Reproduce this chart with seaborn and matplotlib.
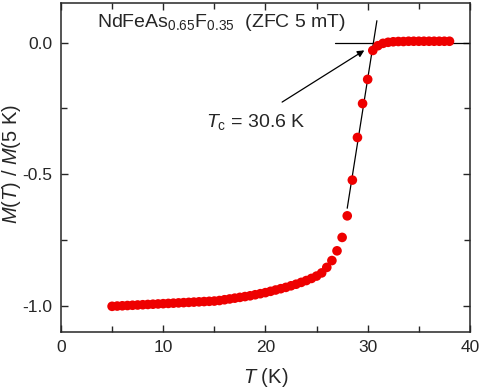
import numpy as np
import pandas as pd
import seaborn as sns
import matplotlib.pyplot as plt
from matplotlib.ticker import MultipleLocator

# ZFC magnetization of NdFeAs0.65F0.35, normalized to M(5 K)
temp_K = [5.0, 5.5, 6.0, 6.5, 7.0, 7.5, 8.0, 8.5, 9.0, 9.5,
          10.0, 10.5, 11.0, 11.5, 12.0, 12.5, 13.0, 13.5, 14.0, 14.5,
          15.0, 15.5, 16.0, 16.5, 17.0, 17.5, 18.0, 18.5, 19.0, 19.5,
          20.0, 20.5, 21.0, 21.5, 22.0, 22.5, 23.0, 23.5, 24.0, 24.5,
          25.0, 25.5, 26.0, 26.5, 27.0, 27.5, 28.0, 28.5, 29.0, 29.5,
          30.0, 30.5, 31.0, 31.5, 32.0, 32.5, 33.0, 33.5, 34.0, 34.5,
          35.0, 35.5, 36.0, 36.5, 37.0, 37.5, 38.0]
m_norm = [-1.003, -1.002, -1.001, -1.000, -0.999, -0.998, -0.997, -0.996, -0.995, -0.994,
          -0.993, -0.992, -0.991, -0.990, -0.989, -0.988, -0.987, -0.986, -0.985, -0.984,
          -0.983, -0.981, -0.978, -0.975, -0.972, -0.969, -0.966, -0.963, -0.959, -0.955,
          -0.951, -0.946, -0.941, -0.936, -0.931, -0.925, -0.919, -0.912, -0.905, -0.897,
          -0.888, -0.876, -0.855, -0.829, -0.792, -0.741, -0.659, -0.523, -0.361, -0.232,
          -0.140, -0.030, -0.012, -0.003, 0.001, 0.003, 0.004, 0.004, 0.005, 0.005,
          0.005, 0.005, 0.005, 0.005, 0.005, 0.005, 0.005]

# tangent construction for Tc
fit_T = [28.0, 30.9]
fit_M = [-0.63, 0.083]
base_T = [26.8, 40.0]
base_M = [0.0, 0.0]

df = pd.DataFrame({'T': temp_K, 'M': m_norm})

sns.set_style('ticks')
plt.rcParams['font.family'] = ['Liberation Sans', 'DejaVu Sans']
plt.rcParams['mathtext.fontset'] = 'custom'
plt.rcParams['mathtext.rm'] = 'Liberation Sans'
plt.rcParams['mathtext.it'] = 'Liberation Sans:italic'

fig = plt.figure(figsize=(4.8, 3.89), dpi=100)
ax = fig.add_axes([0.127, 0.147, 0.852, 0.845])

ax.plot(fit_T, fit_M, color='black', lw=0.9)
ax.plot(base_T, base_M, color='black', lw=0.9)
sns.scatterplot(data=df, x='T', y='M', ax=ax, color='#ee0000', s=48,
                edgecolor='none', zorder=3)

ax.annotate('', xy=(29.9, -0.024), xytext=(21.4, -0.232),
            arrowprops=dict(arrowstyle='-|>', color='black', lw=0.9,
                            mutation_scale=10))
ax.text(14.2, -0.32, r'$\it{T}_\mathrm{c}$ = 30.6 K', fontsize=14)
ax.text(3.5, 0.058, r'NdFeAs$_{0.65}$F$_{0.35}$  (ZFC 5 mT)', fontsize=14)

ax.set_xlim(0, 40)
ax.set_ylim(-1.1, 0.15)
ax.xaxis.set_major_locator(MultipleLocator(10))
ax.xaxis.set_minor_locator(MultipleLocator(5))
ax.yaxis.set_major_locator(MultipleLocator(0.5))
ax.yaxis.set_minor_locator(MultipleLocator(0.25))
ax.yaxis.set_major_formatter(plt.FormatStrFormatter('%.1f'))
ax.tick_params(which='both', direction='in', top=True, right=True,
               labelsize=12.5, width=1)
ax.tick_params(which='major', length=5, pad=6)
ax.tick_params(which='minor', length=4)
for s in ax.spines.values():
    s.set_linewidth(1.1)

ax.set_xlabel(r'$\it{T}$ (K)', fontsize=14.5)
ax.set_ylabel(r'$\it{M}$($\it{T}$) / $\it{M}$(5 K)', fontsize=14.5)
ax.xaxis.set_label_coords(0.5, -0.105)
ax.yaxis.set_label_coords(-0.092, 0.51)

fig.savefig('out.png', dpi=100)
